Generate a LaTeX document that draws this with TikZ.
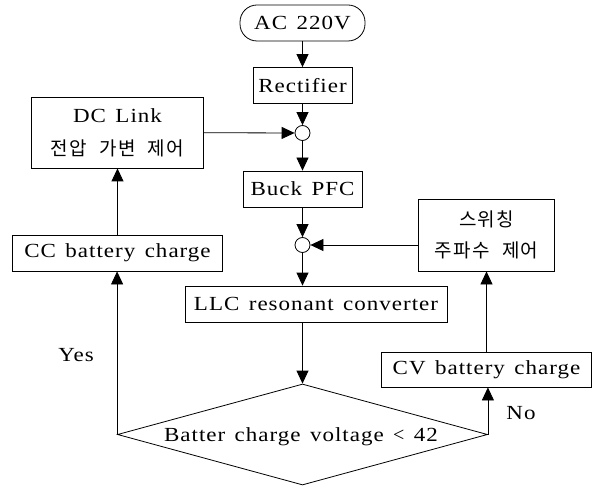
\documentclass[tikz,border=0pt]{standalone}
\usepackage{fontspec}
\setmainfont{Liberation Serif}[FakeStretch=1.15,LetterSpace=5,WordSpace=1.4]
\newfontfamily\kr{Noto Sans CJK KR}[LetterSpace=6,WordSpace=2.3]
\usetikzlibrary{arrows.meta,shapes.geometric}
\begin{document}
\begin{tikzpicture}[x=1pt,y=-1pt,
  box/.style={draw,line width=0.8pt,inner sep=0pt,font=\fontsize{20}{24}\selectfont,align=center},
  jn/.style={draw,circle,line width=0.8pt,minimum size=15pt,inner sep=0pt,fill=white},
  arr/.style={line width=0.8pt,-{Triangle[length=13pt,width=12pt]}},
  lbl/.style={font=\fontsize{20}{24}\selectfont,inner sep=0pt}]
\useasboundingbox (0,0) rectangle (596,486);
\node[box,rounded corners=17pt,minimum width=125pt,minimum height=36pt] (ac) at (302.5,23) {AC 220V};
\node[box,minimum width=99pt,minimum height=36pt] (rect) at (302.5,85.5) {Rectifier};
\node[jn] (c1) at (302.5,133) {};
\node[box,minimum width=172pt,minimum height=71pt] (dc) at (117.5,132.5) {DC Link\\[9pt]{\kr\fontsize{19}{22}\selectfont 전압 가변 제어}};
\node[box,minimum width=119pt,minimum height=36pt] (buck) at (302.5,189) {Buck PFC};
\node[jn] (c2) at (302.5,245) {};
\node[box,minimum width=136pt,minimum height=72pt,font=\kr\fontsize{19}{22}\selectfont] (sw) at (486.5,235) {스위칭\\[9pt]주파수 제어};
\node[box,minimum width=210pt,minimum height=36pt] (cc) at (117.5,253) {CC battery charge};
\node[box,minimum width=262pt,minimum height=36pt] (llc) at (316,304) {LLC resonant converter};
\node[box,shape=diamond,minimum width=370pt,minimum height=101pt] (dd) at (302.5,434.5) {};
\node[lbl] (ddt) at (301,437) {Batter charge voltage {\fontspec{Liberation Serif}<} 42};
\node[box,minimum width=210pt,minimum height=35pt] (cv) at (486.5,369.5) {CV battery charge};
\node[lbl] (yes) at (76,355) {Yes};
\node[lbl] (no) at (521,413) {No};
\draw[arr] (ac) -- (rect);
\draw[arr] (rect) -- (c1);
\draw[arr] (dc) -- (c1);
\draw[arr] (c1) -- (buck);
\draw[arr] (buck) -- (c2);
\draw[arr] (sw.west |- c2) -- (c2);
\draw[arr] (c2) -- (c2 |- llc.north);
\draw[arr] (llc.south -| dd.north) -- (dd.north);
\draw[arr] (dd.west) -- (dd.west |- cc.south);
\draw[arr] (dd.east) -- (dd.east |- cv.south);
\draw[arr] (cv) -- (sw);
\draw[arr] (cc) -- (dc);
\end{tikzpicture}
\end{document}
